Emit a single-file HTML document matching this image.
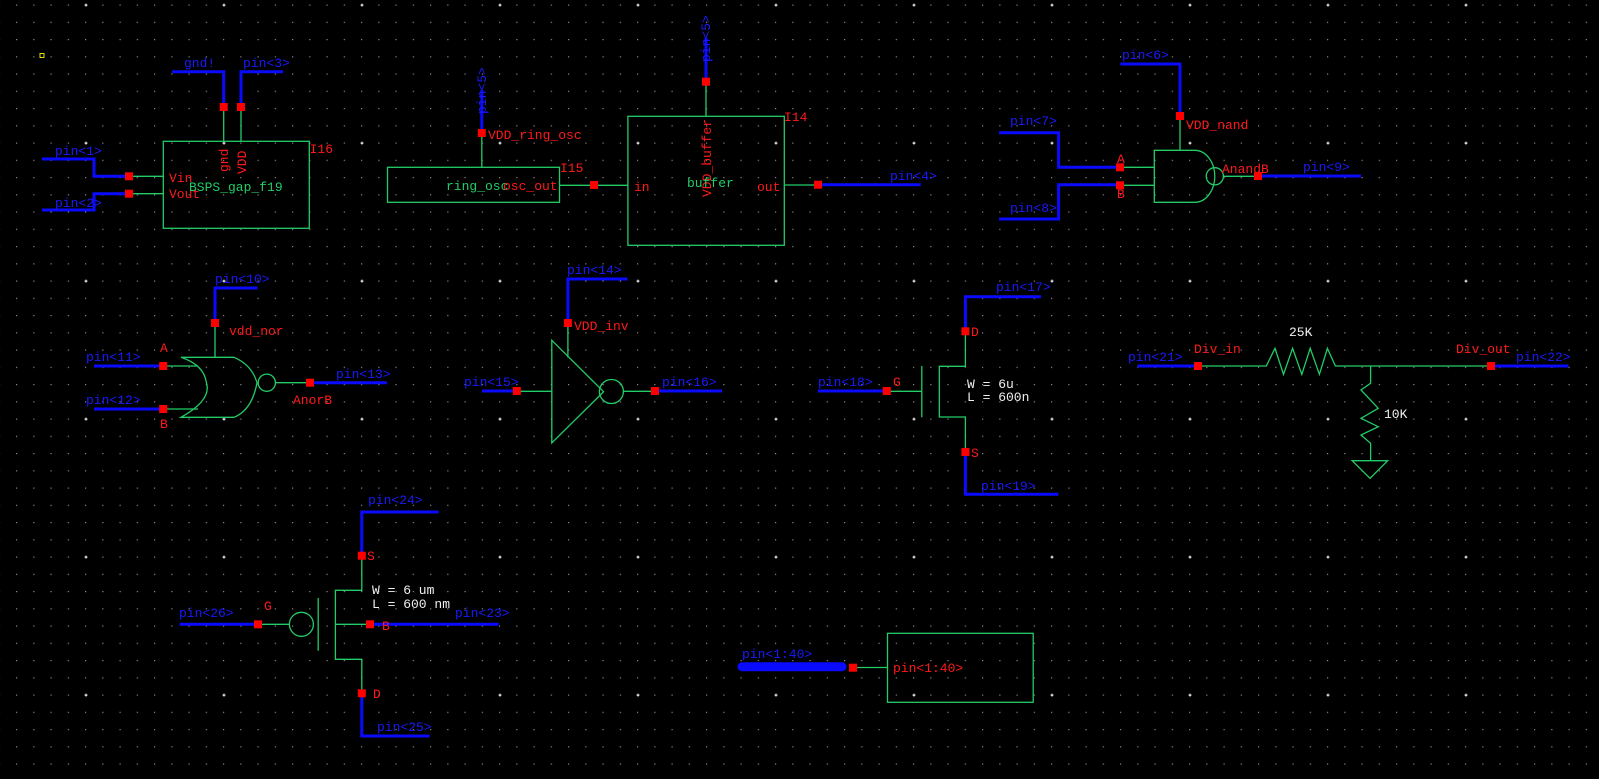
<!DOCTYPE html>
<html><head><meta charset="utf-8"><style>
html,body{margin:0;padding:0;background:#000;}
svg{display:block}
text{font-family:"Liberation Mono",monospace;font-size:13px}
.b{fill:#1a1aff}.r{fill:#ff1a1a}.g{fill:#22cc66}.w{fill:#f0f0f0}
.bw{stroke:#0a0aff;stroke-width:3;fill:none}
.gw{stroke:#22cc66;stroke-width:1.3;fill:none}
</style></head><body>
<svg width="1599" height="779" xmlns="http://www.w3.org/2000/svg">
<defs>
<pattern id="minor" x="16" y="4.5" width="17.25" height="17.25" patternUnits="userSpaceOnUse"><rect x="0" y="0" width="1.2" height="1.2" fill="#8a8a8a"/></pattern>
<pattern id="major" x="84.5" y="3.6" width="138" height="138" patternUnits="userSpaceOnUse"><rect x="0" y="1" width="3" height="1" fill="#fff"/><rect x="1" y="0" width="1" height="3" fill="#fff"/></pattern>
</defs>
<rect width="1599" height="779" fill="#000"/>
<rect width="1599" height="779" fill="url(#minor)"/>
<rect width="1599" height="779" fill="url(#major)"/>
<rect x="40" y="53.5" width="4" height="4" fill="none" stroke="#e0e000" stroke-width="1"/>

<!-- I16 -->
<polyline class="bw" points="172,71.7 223.7,71.7 223.7,107"/>
<polyline class="bw" points="283,71.7 241,71.7 241,107"/>
<text class="b" x="184" y="67">gnd!</text><text class="b" x="243" y="67">pin&lt;3&gt;</text>
<line class="gw" x1="223.7" y1="107" x2="223.7" y2="141.3"/><line class="gw" x1="241" y1="107" x2="241" y2="141.3"/>
<rect class="gw" x="163.3" y="141.3" width="146" height="87"/>
<text class="r" x="309.6" y="153">I16</text>
<text class="r" transform="translate(228,172) rotate(-90)">gnd</text>
<text class="r" transform="translate(246,174) rotate(-90)">VDD</text>
<text class="r" x="169" y="182">Vin</text><text class="r" x="169" y="198">Vout</text>
<text class="g" x="189" y="191">BSPS_gap_f19</text>
<polyline class="bw" points="42,159 94,159 94,176.3 129,176.3"/>
<polyline class="bw" points="42,210 94,210 94,193.7 129,193.7"/>
<text class="b" x="55" y="155">pin&lt;1&gt;</text><text class="b" x="55" y="207">pin&lt;2&gt;</text>
<line class="gw" x1="129" y1="176.3" x2="163.3" y2="176.3"/><line class="gw" x1="129" y1="193.7" x2="163.3" y2="193.7"/>

<!-- I15 -->
<line class="bw" x1="481.8" y1="90" x2="481.8" y2="133"/>
<text class="b" transform="translate(486,114) rotate(-90)">pin&lt;5&gt;</text>
<text class="r" x="488" y="139">VDD_ring_osc</text>
<line class="gw" x1="481.8" y1="133" x2="481.8" y2="167.3"/>
<rect class="gw" x="387.5" y="167.3" width="172" height="35"/>
<text class="g" x="446" y="190">ring_osc</text><text class="r" x="503" y="190">osc_out</text>
<text class="r" x="560" y="172">I15</text>
<line class="gw" x1="559.5" y1="185.3" x2="627.9" y2="185.3"/>

<!-- I14 buffer -->
<line class="bw" x1="706" y1="37.7" x2="706" y2="81.7"/>
<text class="b" transform="translate(710,62) rotate(-90)">pin&lt;5&gt;</text>
<line class="gw" x1="706" y1="81.7" x2="706" y2="116.3"/>
<rect class="gw" x="627.9" y="116.3" width="156.4" height="129"/>
<text class="r" x="784" y="121">I14</text>
<text class="r" transform="translate(711,197) rotate(-90)">VDD_buffer</text>
<text class="g" x="687" y="187">buffer</text>
<text class="r" x="634" y="191">in</text><text class="r" x="757" y="191">out</text>
<line class="gw" x1="784.3" y1="185" x2="818" y2="185"/>
<line class="bw" x1="818" y1="184.7" x2="920.7" y2="184.7"/>
<text class="b" x="890" y="180">pin&lt;4&gt;</text>

<!-- NAND -->
<polyline class="bw" points="999,132.7 1058.6,132.7 1058.6,167.3 1120,167.3"/>
<polyline class="bw" points="999,219 1058.6,219 1058.6,184.7 1120,184.7"/>
<text class="b" x="1010" y="125">pin&lt;7&gt;</text><text class="b" x="1010" y="212">pin&lt;8&gt;</text>
<polyline class="bw" points="1120.3,64 1180,64 1180,116"/>
<text class="b" x="1122" y="59">pin&lt;6&gt;</text>
<text class="r" x="1186" y="129">VDD_nand</text>
<line class="gw" x1="1180" y1="116" x2="1180" y2="150.3"/>
<path class="gw" d="M1194.8,150.3 H1154.3 V202.3 H1194.8 A20,26 0 0 0 1194.8,150.3"/>
<circle class="gw" cx="1214.8" cy="176.3" r="8.6"/>
<line class="gw" x1="1120" y1="167.3" x2="1154.3" y2="167.3"/><line class="gw" x1="1120" y1="185.3" x2="1154.3" y2="185.3"/>
<text class="r" x="1117" y="163">A</text><text class="r" x="1117" y="198">B</text>
<line class="gw" x1="1223.4" y1="176.3" x2="1258" y2="176.3"/>
<line class="bw" x1="1258" y1="176" x2="1361" y2="176"/>
<text class="b" x="1303" y="171">pin&lt;9&gt;</text><text class="r" x="1222" y="173">AnandB</text>

<!-- NOR -->
<polyline class="bw" points="257.5,288 215,288 215,323"/>
<text class="b" x="215" y="283">pin&lt;10&gt;</text>
<text class="r" x="229" y="335">vdd_nor</text>
<line class="gw" x1="215" y1="323" x2="215" y2="357.3"/>
<path class="gw" d="M181,357.3 H234 Q252,365 257,382.7 Q252,410 234,417.3 H181 Q212,400 206.4,382.7 Q204,365 181,357.3"/>
<circle class="gw" cx="266.8" cy="382.7" r="8.6"/>
<line class="bw" x1="94" y1="366" x2="163.2" y2="366"/><line class="bw" x1="94" y1="409" x2="163.2" y2="409"/>
<line class="gw" x1="163.2" y1="366" x2="198" y2="366"/><line class="gw" x1="163.2" y1="409" x2="198" y2="409"/>
<text class="b" x="86" y="361">pin&lt;11&gt;</text><text class="b" x="86" y="404">pin&lt;12&gt;</text>
<text class="r" x="160" y="352">A</text><text class="r" x="160" y="428">B</text>
<line class="gw" x1="275.4" y1="382.7" x2="310" y2="382.7"/>
<line class="bw" x1="310" y1="382.7" x2="386.8" y2="382.7"/>
<text class="b" x="336" y="378">pin&lt;13&gt;</text><text class="r" x="293" y="404">AnorB</text>

<!-- Inverter -->
<polyline class="bw" points="627.5,279 567.9,279 567.9,323"/>
<text class="b" x="567" y="274">pin&lt;14&gt;</text><text class="r" x="574" y="330">VDD_inv</text>
<line class="gw" x1="567.9" y1="323" x2="567.9" y2="357.5"/>
<polygon class="gw" points="551.8,340.3 603.6,391.7 551.8,443"/>
<circle class="gw" cx="611.4" cy="391.5" r="12"/>
<line class="bw" x1="482" y1="391" x2="516.8" y2="391"/>
<line class="gw" x1="516.8" y1="391.3" x2="551.8" y2="391.3"/>
<text class="b" x="464" y="386">pin&lt;15&gt;</text>
<line class="gw" x1="623.4" y1="391.3" x2="655" y2="391.3"/>
<line class="bw" x1="655" y1="391" x2="722" y2="391"/>
<text class="b" x="662" y="386">pin&lt;16&gt;</text>

<!-- NMOS -->
<line class="bw" x1="817.9" y1="391" x2="886.8" y2="391"/>
<text class="b" x="818" y="386">pin&lt;18&gt;</text><text class="r" x="893" y="386">G</text>
<line class="gw" x1="886.8" y1="391.3" x2="921.8" y2="391.3"/>
<line class="gw" x1="921.8" y1="366" x2="921.8" y2="417.3"/>
<polyline class="gw" points="965.4,331.3 965.4,366.3 939.3,366.3 939.3,417 965.4,417 965.4,452"/>
<polyline class="bw" points="965.4,331.3 965.4,296.7 1041,296.7"/>
<polyline class="bw" points="965.4,452 965.4,494.3 1058.4,494.3"/>
<text class="r" x="971" y="336">D</text><text class="r" x="971" y="457">S</text>
<text class="b" x="996" y="291">pin&lt;17&gt;</text><text class="b" x="981" y="490">pin&lt;19&gt;</text>
<text class="w" x="967" y="388">W = 6u</text><text class="w" x="967" y="401">L = 600n</text>

<!-- Divider -->
<line class="bw" x1="1137.5" y1="366" x2="1198" y2="366"/>
<text class="b" x="1128" y="361">pin&lt;21&gt;</text><text class="r" x="1194" y="353">Div_in</text>
<polyline class="gw" points="1198,366 1266.3,366 1275,348.3 1283.5,374.3 1292.6,348.3 1301.8,374.3 1310.2,348.3 1319.4,374.3 1327.4,348.3 1335.4,366 1491,366"/>
<line class="bw" x1="1491" y1="366" x2="1568.4" y2="366"/>
<text class="b" x="1516" y="361">pin&lt;22&gt;</text><text class="r" x="1456" y="353">Div_out</text>
<text class="w" x="1289" y="336">25K</text>
<polyline class="gw" points="1370.6,366 1370.6,383.3 1361,390 1378.2,408.3 1361,418.3 1378.2,426.7 1361,435 1370.6,443.3 1370.6,460.7"/>
<polygon class="gw" points="1352.2,460.7 1387.7,460.7 1370,478.3"/>
<text class="w" x="1384" y="418">10K</text>

<!-- PMOS -->
<polyline class="bw" points="438.6,512 361.8,512 361.8,555.7"/>
<text class="b" x="368" y="504">pin&lt;24&gt;</text><text class="r" x="367" y="560">S</text>
<polyline class="gw" points="361.8,555.7 361.8,590.3 335.4,590.3 335.4,659.3 361.8,659.3 361.8,693.3"/>
<line class="gw" x1="318.2" y1="598" x2="318.2" y2="650.7"/>
<circle class="gw" cx="301.4" cy="624.3" r="12"/>
<line class="bw" x1="179.6" y1="624.3" x2="258" y2="624.3"/>
<line class="gw" x1="258" y1="624.3" x2="289.4" y2="624.3"/>
<line class="gw" x1="335.4" y1="624.3" x2="370" y2="624.3"/>
<line class="bw" x1="370" y1="624.3" x2="498.6" y2="624.3"/>
<polyline class="bw" points="361.8,693.3 361.8,736 429.6,736"/>
<text class="w" x="372" y="594">W = 6 um</text><text class="w" x="372" y="608">L = 600 nm</text>
<text class="r" x="264" y="610">G</text><text class="b" x="179" y="617">pin&lt;26&gt;</text>
<text class="r" x="382" y="630">B</text><text class="b" x="455" y="617">pin&lt;23&gt;</text>
<text class="r" x="373" y="698">D</text><text class="b" x="377" y="731">pin&lt;25&gt;</text>

<!-- bus -->
<line x1="742" y1="666.7" x2="842" y2="666.7" stroke="#0a0aff" stroke-width="9" stroke-linecap="round"/>
<text class="b" x="742" y="658">pin&lt;1:40&gt;</text>
<line class="gw" x1="853" y1="667.5" x2="887.5" y2="667.5"/>
<rect class="gw" x="887.5" y="633.3" width="145.7" height="69"/>
<text class="r" x="893" y="672">pin&lt;1:40&gt;</text>

<!-- red pin squares -->
<g fill="#ff0000">
<rect x="219.7" y="103" width="8" height="8"/><rect x="237" y="103" width="8" height="8"/>
<rect x="125" y="172.3" width="8" height="8"/><rect x="125" y="189.7" width="8" height="8"/>
<rect x="477.8" y="129" width="8" height="8"/><rect x="590" y="181" width="8" height="8"/>
<rect x="702" y="77.7" width="8" height="8"/><rect x="814" y="180.7" width="8" height="8"/>
<rect x="1176" y="112" width="8" height="8"/><rect x="1116" y="163.3" width="8" height="8"/><rect x="1116" y="181.3" width="8" height="8"/>
<rect x="1254" y="172" width="8" height="8"/>
<rect x="211" y="319" width="8" height="8"/><rect x="159.2" y="362" width="8" height="8"/><rect x="159.2" y="405" width="8" height="8"/><rect x="306" y="378.7" width="8" height="8"/>
<rect x="563.9" y="319" width="8" height="8"/><rect x="512.8" y="387" width="8" height="8"/><rect x="651" y="387" width="8" height="8"/>
<rect x="882.8" y="387" width="8" height="8"/><rect x="961.4" y="327.3" width="8" height="8"/><rect x="961.4" y="448" width="8" height="8"/>
<rect x="1194" y="362" width="8" height="8"/><rect x="1487" y="362" width="8" height="8"/>
<rect x="357.8" y="551.7" width="8" height="8"/><rect x="357.8" y="689.3" width="8" height="8"/><rect x="254" y="620.3" width="8" height="8"/><rect x="366" y="620.3" width="8" height="8"/>
<rect x="849" y="663.7" width="8" height="8"/>
</g>
</svg>
</body></html>
